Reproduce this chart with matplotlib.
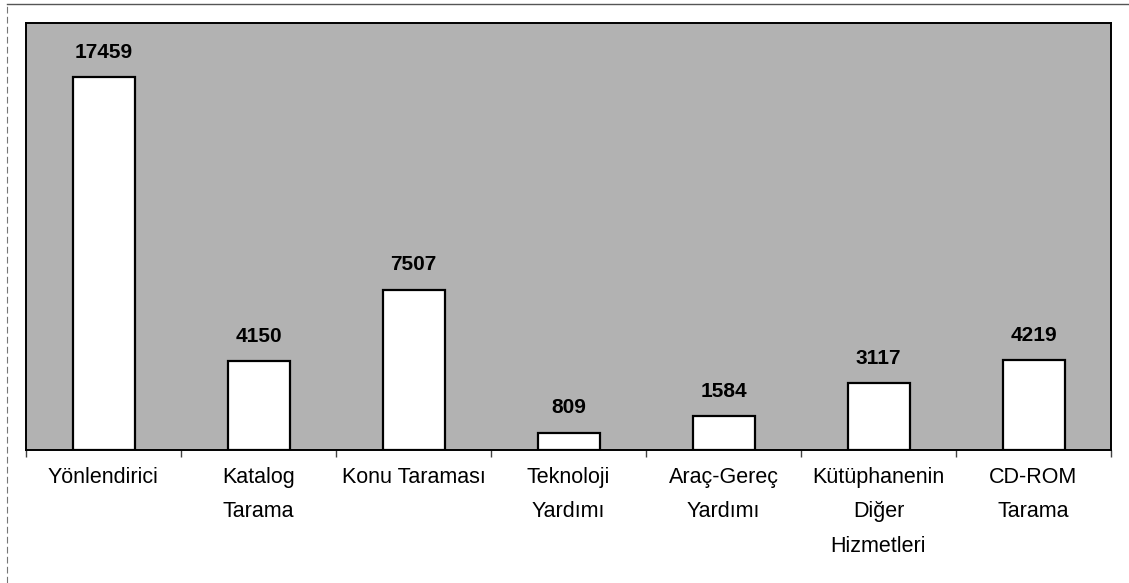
import numpy as np
import matplotlib.pyplot as plt
from matplotlib.lines import Line2D

categories = ["Yönlendirici", "Katalog\nTarama", "Konu Taraması", "Teknoloji\nYardımı",
              "Araç-Gereç\nYardımı", "Kütüphanenin\nDiğer\nHizmetleri", "CD-ROM\nTarama"]
values = [17459, 4150, 7507, 809, 1584, 3117, 4219]

plt.rcParams['font.family'] = ['Liberation Sans', 'DejaVu Sans']

fig = plt.figure(figsize=(11.29, 5.83), dpi=100)
ax = fig.add_axes([26 / 1129, 1 - 450 / 583, (1111 - 26) / 1129, (450 - 23) / 583])
ax.set_facecolor('#b2b2b2')

x = np.arange(len(categories))
bars = ax.bar(x, values, width=0.4, color='white', edgecolor='black', linewidth=1.6, zorder=3)

for b, v in zip(bars, values):
    ax.annotate(str(v), (b.get_x() + b.get_width() / 2, v), xytext=(0, 11),
                textcoords='offset points', ha='center', va='bottom',
                fontsize=15, fontweight='bold')

ax.set_xlim(-0.5, len(categories) - 0.5)
ax.set_ylim(0, 20000)
ax.set_yticks([])
ax.set_xticks(x)
ax.set_xticklabels(categories, fontsize=15.5, linespacing=1.85, va='top')
ax.tick_params(axis='x', which='major', length=0, pad=12)
ax.set_xticks(np.arange(-0.5, len(categories)), minor=True)
ax.tick_params(axis='x', which='minor', length=5, width=1, color='#444444')

for s in ax.spines.values():
    s.set_linewidth(1.4)
    s.set_color('black')

# outer frame of the scanned page
fig.add_artist(Line2D([7 / 1129, 1], [1 - 4 / 583, 1 - 4 / 583], color='#555555', lw=1))
fig.add_artist(Line2D([7 / 1129, 7 / 1129], [0, 1 - 4 / 583], color='#777777', lw=0.8,
                      linestyle=(0, (6, 3))))

fig.savefig('out.png', dpi=100)
